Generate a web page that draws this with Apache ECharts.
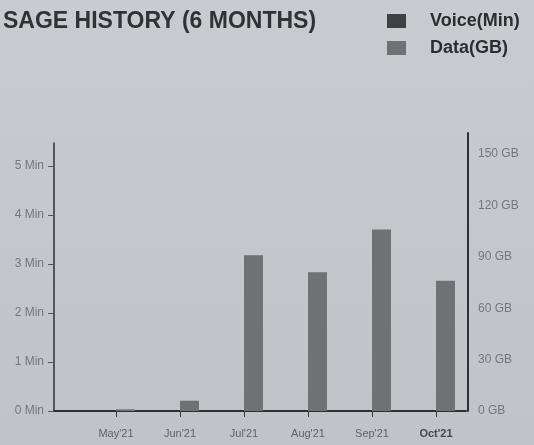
<!DOCTYPE html>
<html>
<head>
<meta charset="utf-8">
<script src="https://cdn.jsdelivr.net/npm/echarts@6/dist/echarts.min.js"></script>
<style>
html,body{margin:0;padding:0;}
#chart{width:534px;height:445px;}
</style>
</head>
<body>
<div id="chart"></div>
<script>
const categories = ["May'21", "Jun'21", "Jul'21", "Aug'21", "Sep'21", "Oct'21"];
const voiceMin = [0, 0, 0, 0, 0, 0];
const dataGB = [1, 6, 91, 81, 106, 76];
const minTicks = [0, 1, 2, 3, 4, 5];
const gbTicks = [0, 30, 60, 90, 120, 150];

const FONT = "'Liberation Sans', Arial, sans-serif";
const chart = echarts.init(document.getElementById('chart'));
const lastIdx = categories.length - 1;

chart.setOption({
  animation: false,
  backgroundColor: {
    type: 'linear', x: 0, y: 0, x2: 0, y2: 1,
    colorStops: [{offset: 0, color: '#c8ccd1'}, {offset: 1, color: '#c0c4c9'}]
  },
  title: {
    text: 'SAGE HISTORY (6 MONTHS)',
    left: 3, top: 10, padding: 0,
    textStyle: {fontFamily: FONT, fontSize: 23, fontWeight: 'bold', color: '#303236'}
  },
  legend: {
    orient: 'vertical',
    left: 387, top: 12, padding: 0,
    itemWidth: 19, itemHeight: 14, itemGap: 9,
    icon: 'rect',
    data: ['Voice(Min)', 'Data(GB)'],
    textStyle: {fontFamily: FONT, fontSize: 18, fontWeight: 'bold', color: '#2b2d30', padding: [0, 0, 0, 19]}
  },
  grid: [
    {left: 84, right: 66, top: 133, bottom: 34},
    {left: 54, right: 68, top: 143, bottom: 34}
  ],
  xAxis: [
    {
      type: 'category', gridIndex: 0, data: categories,
      axisLine: {show: false},
      axisTick: {show: true, alignWithLabel: true, length: 6, lineStyle: {color: '#3a3c40', width: 1}},
      axisLabel: {
        margin: 17, fontFamily: FONT, fontSize: 11, color: '#606266', interval: 0,
        formatter: (v, i) => i === lastIdx ? '{b|' + v + '}' : v,
        rich: {b: {fontFamily: FONT, fontSize: 11, fontWeight: 'bold', color: '#45474b'}}
      },
      splitLine: {show: false}
    },
    {
      type: 'category', gridIndex: 1, data: categories,
      axisLine: {show: true, lineStyle: {color: '#2f3134', width: 2}},
      axisTick: {show: false}, axisLabel: {show: false}, splitLine: {show: false}
    }
  ],
  yAxis: [
    {
      type: 'value', gridIndex: 0, position: 'right', min: 0, max: 162.3, interval: 30,
      axisLine: {show: true, lineStyle: {color: '#2f3134', width: 2}},
      axisTick: {show: false},
      axisLabel: {margin: 10, fontFamily: FONT, fontSize: 12, color: '#74767a', showMaxLabel: false,
        formatter: v => gbTicks.includes(v) ? v + ' GB' : ''},
      splitLine: {show: false}
    },
    {
      type: 'value', gridIndex: 1, position: 'left', min: 0, max: 5.47, interval: 1,
      axisLine: {show: true, lineStyle: {color: '#2f3134', width: 1.5}},
      axisTick: {show: true, length: 6, lineStyle: {color: '#55575b'}},
      axisLabel: {margin: 10, fontFamily: FONT, fontSize: 12, color: '#74767a', showMaxLabel: false,
        formatter: v => minTicks.includes(v) ? v + ' Min' : ''},
      splitLine: {show: false}
    },
    {
      type: 'value', gridIndex: 0, min: 0, max: 5.47, show: false
    }
  ],
  series: [
    {
      name: 'Voice(Min)', type: 'bar', xAxisIndex: 0, yAxisIndex: 2,
      data: voiceMin, barWidth: 19, barGap: '0%',
      itemStyle: {color: '#3e4043'}
    },
    {
      name: 'Data(GB)', type: 'bar', xAxisIndex: 0, yAxisIndex: 0,
      data: dataGB, barWidth: 19, barGap: '0%',
      itemStyle: {color: '#6f7175'}
    }
  ]
});
</script>
</body>
</html>
